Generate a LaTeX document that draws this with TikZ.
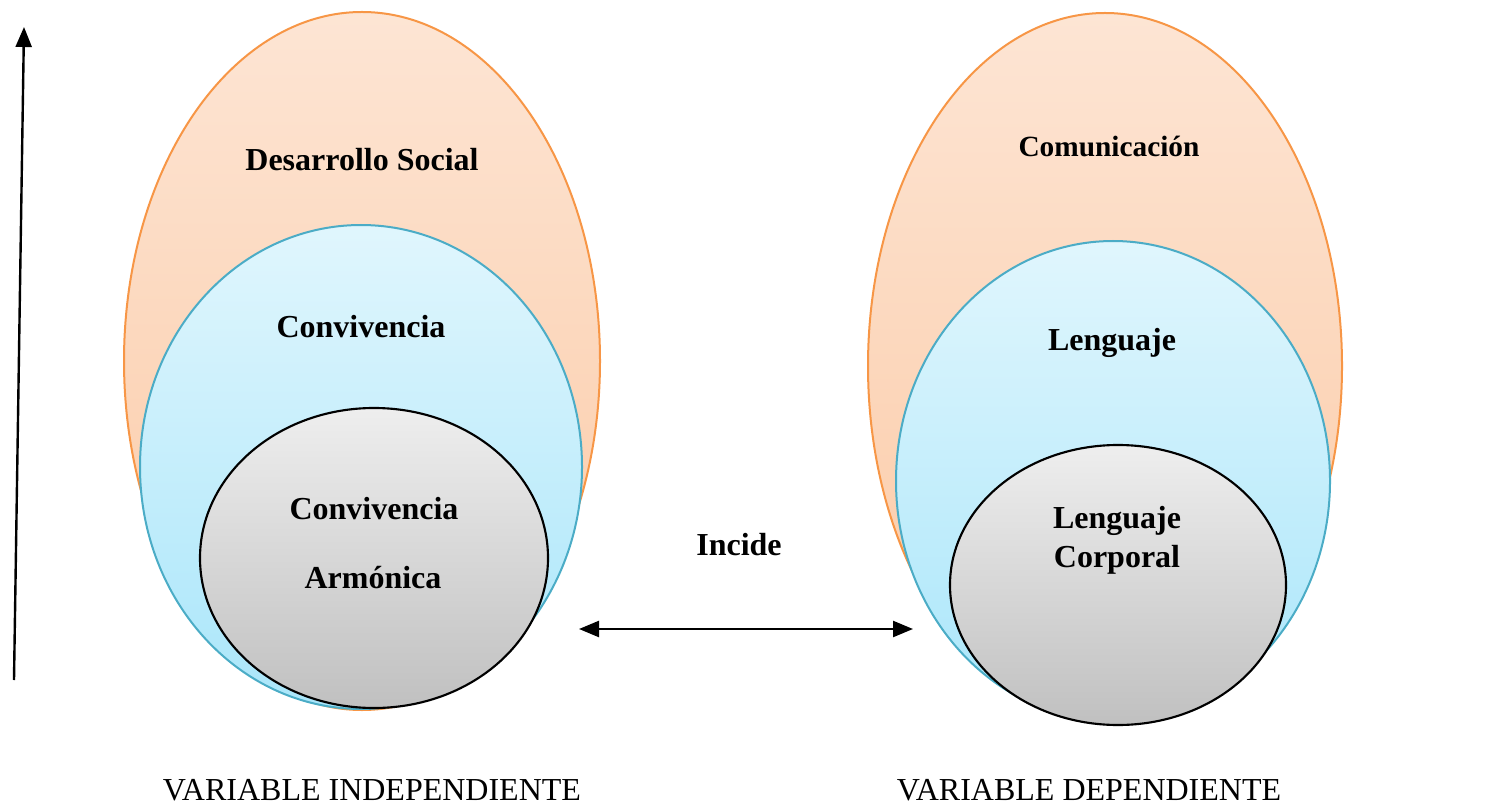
\documentclass[tikz,border=0pt]{standalone}
\usepackage{fontspec}
\setmainfont{Liberation Serif}
\usetikzlibrary{arrows.meta}

\definecolor{orangeline}{RGB}{247,150,70}
\definecolor{orangetop}{RGB}{253,229,212}
\definecolor{orangebot}{RGB}{251,201,164}
\definecolor{blueline}{RGB}{75,172,198}
\definecolor{bluetop}{RGB}{224,246,253}
\definecolor{bluebot}{RGB}{170,230,250}
\definecolor{graytop}{RGB}{238,238,238}
\definecolor{graybot}{RGB}{192,192,192}

\tikzset{every picture/.style={line width=0.75pt}}
\tikzset{
  outerell/.style={draw=orangeline, line width=1.5pt, top color=orangetop, bottom color=orangebot},
  midell/.style={draw=blueline, line width=1.5pt, top color=bluetop, bottom color=bluebot},
  innerell/.style={draw=black, line width=1.6pt, top color=graytop, bottom color=graybot},
  lbl/.style={font=\fontsize{24}{29}\selectfont\bfseries, inner sep=0.75pt, align=center},
  varlbl/.style={font=\fontsize{24}{29}\selectfont, inner sep=0.75pt},
  bigarrow/.style={line width=1.8pt, -{Triangle[length=15pt,width=12pt]}}
}

\begin{document}
\begin{tikzpicture}[x=0.75pt,y=0.75pt,yscale=-1,xscale=1]
\useasboundingbox (0,0) rectangle (1512,805);

%Left ellipses
\draw [outerell] (362,361) ellipse (238 and 349);
\draw [midell] (361,467) ellipse (221 and 242);
\draw [innerell] (374,558) ellipse (174 and 150);

%Right ellipses
\draw [outerell] (1105,366) ellipse (237 and 353);
\draw [midell] (1113,481) ellipse (217 and 240);
\draw [innerell] (1118,585) ellipse (168 and 140);

%Axis arrow
\coordinate (axisbot) at (14,680);
\coordinate (axistop) at (24,27);
\draw [bigarrow] (axisbot) -- (axistop);

%Incide arrow
\coordinate (incl) at (579,629);
\coordinate (incr) at (913,629);
\draw [bigarrow, {Triangle[length=15pt,width=12pt]}-{Triangle[length=15pt,width=12pt]}] (incl) -- (incr);

% Text Node
\node [lbl] (dsoc) at (362,160) {Desarrollo Social};
% Text Node
\node [lbl] (conv) at (361,327) {Convivencia};
% Text Node
\node [lbl] (conv2) at (374,509) {Convivencia};
% Text Node
\node [lbl] (armo) at (373,578) {Armónica};
% Text Node
\node [lbl] (incide) at (739,545) {Incide};
% Text Node
\node [lbl, font=\fontsize{22}{26}\selectfont\bfseries] (comu) at (1109,146) {Comunicación};
% Text Node
\node [lbl] (leng) at (1112,343) {Lenguaje};
% Text Node
\node [lbl] (lcorp) at (1117,540) {Lenguaje\\Corporal};
% Text Node
\node [varlbl] (vind) at (372,790) {VARIABLE INDEPENDIENTE};
% Text Node
\node [varlbl] (vdep) at (1089,790) {VARIABLE DEPENDIENTE};

\end{tikzpicture}
\end{document}
